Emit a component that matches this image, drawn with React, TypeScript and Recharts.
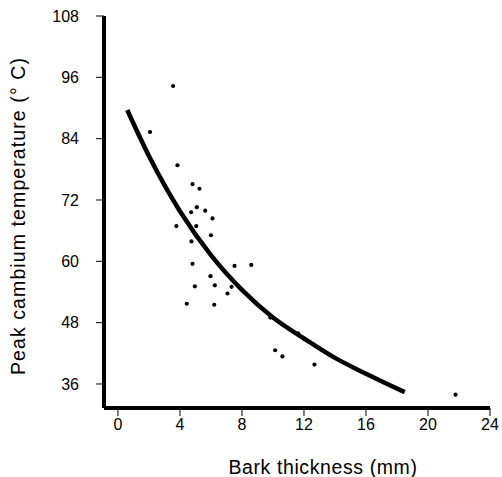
import React from 'react';
import { ComposedChart, Scatter, Line, XAxis, YAxis } from 'recharts';

const barkThickness = [3.56, 2.07, 3.84, 4.81, 5.26, 5.09, 4.72, 5.63, 6.10, 3.77, 5.05, 6.00, 4.74, 4.81, 7.52, 8.60, 5.97, 4.96, 6.25, 7.33, 7.07, 4.44, 6.21, 9.83, 11.62, 10.14, 10.61, 12.68, 21.78];
const peakTemp = [94.3, 85.3, 78.8, 75.1, 74.2, 70.6, 69.6, 69.9, 68.4, 66.9, 66.9, 65.1, 63.9, 59.5, 59.1, 59.3, 57.1, 55.1, 55.3, 55.0, 53.7, 51.7, 51.5, 49.0, 45.9, 42.6, 41.4, 39.8, 33.9];

const curveX = [0.6, 2, 4, 6, 8, 10, 12, 14, 16, 18.5];
const curveY = [89.6, 80.6, 69.8, 61.2, 54.4, 49.0, 44.9, 41.1, 38.0, 34.4];

const xTicks = [0, 4, 8, 12, 16, 20, 24];
const yTicks = [36, 48, 60, 72, 84, 96, 108];

const points = barkThickness.map((x, i) => ({ x, y: peakTemp[i] }));
const curve = curveX.map((x, i) => ({ x, y: curveY[i] }));

const FONT = '"Liberation Sans", Arial, Helvetica, sans-serif';

const Dot = (p: any) => <circle cx={p.cx} cy={p.cy} r={2.1} fill="#000" />;

export default function App() {
  return (
    <div style={{ position: 'absolute', left: 0, top: 0, background: '#fff' }}>
      <ComposedChart
        width={502}
        height={477}
        margin={{ top: 16, right: 12, bottom: 39, left: 0 }}
      >
        <XAxis
          type="number"
          dataKey="x"
          domain={[-0.9, 24]}
          ticks={xTicks}
          interval={0}
          allowDataOverflow
          height={30}
          axisLine={{ stroke: '#000', strokeWidth: 4 }}
          tickLine={{ stroke: '#000', strokeWidth: 1 }}
          tickSize={8}
          tickMargin={3}
          tick={{ fill: '#000', fontSize: 16, fontFamily: FONT }}
          label={{
            content: (props: any) => {
              const vb = props.viewBox;
              return (
                <text
                  x={vb.x + vb.width / 2 + 26}
                  y={vb.y + vb.height + 36}
                  textAnchor="middle"
                  fontSize={19.5}
                  letterSpacing={0.6}
                  fontFamily={FONT}
                  fill="#000"
                >
                  Bark thickness (mm)
                </text>
              );
            },
          }}
        />
        <YAxis
          type="number"
          dataKey="y"
          domain={[31.3, 108]}
          ticks={yTicks}
          interval={0}
          allowDataOverflow
          width={104}
          axisLine={{ stroke: '#000', strokeWidth: 4 }}
          tickLine={{ stroke: '#000', strokeWidth: 1 }}
          tickSize={8}
          tickMargin={17}
          tick={{ fill: '#000', fontSize: 16, fontFamily: FONT }}
          label={{
            content: (props: any) => {
              const vb = props.viewBox;
              const cx = 25;
              const cy = vb.y + vb.height / 2 + 4;
              return (
                <text
                  x={cx}
                  y={cy}
                  transform={`rotate(-90, ${cx}, ${cy})`}
                  textAnchor="middle"
                  fontSize={19.5}
                  letterSpacing={1.1}
                  fontFamily={FONT}
                  fill="#000"
                >
                  Peak cambium temperature (° C)
                </text>
              );
            },
          }}
        />
        <Scatter data={points} dataKey="y" shape={Dot} isAnimationActive={false} />
        <Line
          data={curve}
          dataKey="y"
          type="monotone"
          stroke="#000"
          strokeWidth={4.5}
          dot={false}
          activeDot={false}
          isAnimationActive={false}
        />
      </ComposedChart>
    </div>
  );
}
